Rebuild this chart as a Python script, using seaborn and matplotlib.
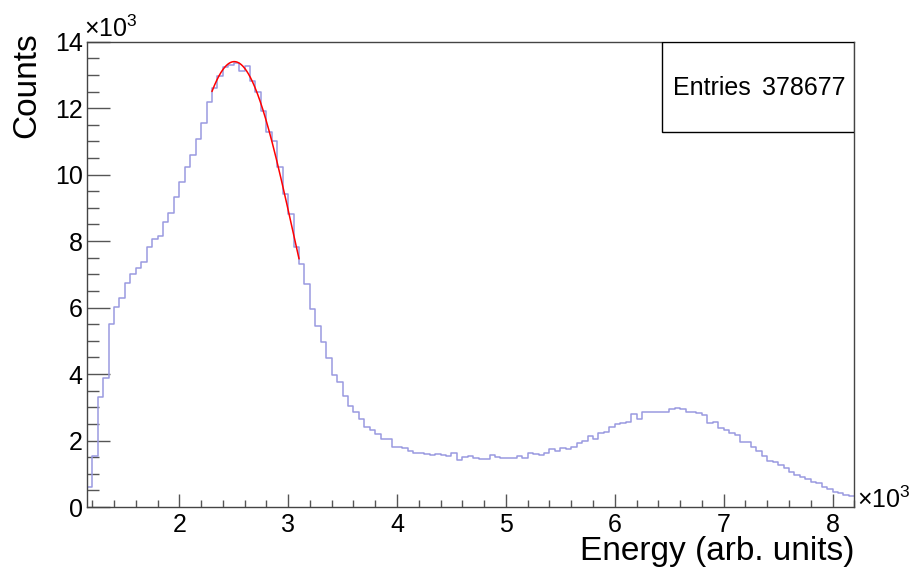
import numpy as np
import pandas as pd
import matplotlib
matplotlib.use("Agg")
import matplotlib.pyplot as plt
import seaborn as sns
from matplotlib.ticker import MultipleLocator, FuncFormatter
from matplotlib.patches import Rectangle

# binning of the energy histogram (arb. units)
x_min = 1150
x_max = 8200
bin_width = 50

# counts per bin in thousands
counts_k = [
    0.61, 1.53, 3.32, 3.87, 5.50, 6.03, 6.30, 6.75, 7.00, 7.20,
    7.38, 7.83, 8.07, 8.15, 8.56, 8.86, 9.32, 9.79, 10.24, 10.60,
    11.08, 11.56, 12.19, 12.60, 12.97, 13.25, 13.30, 13.35, 13.12, 13.27,
    12.83, 12.50, 11.92, 11.27, 11.01, 10.23, 9.43, 8.81, 7.81, 7.31,
    6.72, 5.95, 5.46, 4.95, 4.47, 3.97, 3.77, 3.34, 3.05, 2.87,
    2.65, 2.42, 2.32, 2.20, 2.04, 2.04, 1.82, 1.82, 1.77, 1.70,
    1.64, 1.64, 1.58, 1.56, 1.58, 1.55, 1.52, 1.61, 1.41, 1.51,
    1.53, 1.48, 1.45, 1.43, 1.57, 1.51, 1.48, 1.46, 1.48, 1.54,
    1.48, 1.61, 1.58, 1.56, 1.62, 1.75, 1.69, 1.79, 1.74, 1.82,
    1.94, 2.00, 2.14, 2.04, 2.24, 2.27, 2.42, 2.49, 2.52, 2.55,
    2.79, 2.64, 2.86, 2.87, 2.87, 2.87, 2.86, 2.95, 2.97, 2.96,
    2.87, 2.85, 2.82, 2.78, 2.52, 2.55, 2.37, 2.32, 2.24, 2.17,
    1.95, 1.97, 1.82, 1.69, 1.53, 1.38, 1.36, 1.26, 1.16, 1.04,
    0.96, 0.91, 0.83, 0.74, 0.71, 0.59, 0.54, 0.46, 0.41, 0.36,
    0.34,
]
entries = 378677

# gaussian fit on the first peak
fit_amp = 13400
fit_mean = 2505
fit_sigma = 550
fit_lo, fit_hi = 2300, 3100

centers = x_min + bin_width / 2 + bin_width * np.arange(len(counts_k))
hist = pd.DataFrame({"energy": centers, "counts": np.array(counts_k) * 1000})

fit_x = np.linspace(fit_lo, fit_hi, 200)
fit = pd.DataFrame({"energy": fit_x,
                    "counts": fit_amp * np.exp(-0.5 * ((fit_x - fit_mean) / fit_sigma) ** 2)})

sns.set_style("white")
plt.rcParams["font.family"] = ["Liberation Sans", "DejaVu Sans"]
plt.rcParams["mathtext.fontset"] = "custom"
plt.rcParams["mathtext.rm"] = "Liberation Sans"
plt.rcParams["mathtext.it"] = "Liberation Sans"
plt.rcParams["text.color"] = "black"
plt.rcParams["axes.labelcolor"] = "black"
plt.rcParams["xtick.labelcolor"] = "black"
plt.rcParams["ytick.labelcolor"] = "black"

fig = plt.figure(figsize=(9.14, 5.67), dpi=100)
ax = fig.add_axes([0.0949, 0.1058, 0.8398, 0.8207])

sns.histplot(data=hist, x="energy", weights="counts", binwidth=bin_width,
             binrange=(x_min, x_max), element="step", fill=False,
             color="#9a9ae0", linewidth=1.1, ax=ax)
sns.lineplot(data=fit, x="energy", y="counts", color="red", linewidth=1.1, ax=ax)

ax.set_xlim(x_min, x_max)
ax.set_ylim(0, 14000)

ax.xaxis.set_major_locator(MultipleLocator(1000))
ax.xaxis.set_minor_locator(MultipleLocator(200))
ax.yaxis.set_major_locator(MultipleLocator(2000))
ax.yaxis.set_minor_locator(MultipleLocator(500))
thousands = FuncFormatter(lambda v, p: f"{v / 1000:g}")
ax.xaxis.set_major_formatter(thousands)
ax.yaxis.set_major_formatter(thousands)

ax.tick_params(axis="both", which="both", bottom=True, left=True, top=False, right=False,
               labelsize=18, labelcolor="black", direction="in", width=1, color="#555555")
ax.tick_params(axis="x", which="major", length=9.5, pad=4)
ax.tick_params(axis="x", which="minor", length=4.8)
ax.tick_params(axis="y", which="major", length=16.5, pad=3)
ax.tick_params(axis="y", which="minor", length=8.6)

for s in ax.spines.values():
    s.set_color("#444444")
    s.set_linewidth(1)

ax.set_xlabel("Energy (arb. units)", fontsize=24, loc="right", color="black")
ax.set_ylabel("Counts", fontsize=24, loc="top", color="black")
ax.xaxis.set_label_coords(1.0, -0.062)
ax.yaxis.set_label_coords(-0.058, 1.02)

ax.text(-0.003, 1.01, r"$\times10^{3}$", transform=ax.transAxes, fontsize=18,
        ha="left", va="baseline", color="black")
ax.text(1.004, -0.002, r"$\times10^{3}$", transform=ax.transAxes, fontsize=18,
        ha="left", va="baseline", color="black")

# stats box
ax.add_patch(Rectangle((0.7495, 0.806), 0.2505, 0.194, transform=ax.transAxes,
                       facecolor="white", edgecolor="black", linewidth=1, zorder=5))
ax.text(0.7638, 0.9005, "Entries", transform=ax.transAxes, fontsize=18,
        ha="left", va="center", zorder=6, color="black")
ax.text(0.9879, 0.9005, f"{entries}", transform=ax.transAxes, fontsize=18,
        ha="right", va="center", zorder=6, color="black")

fig.savefig("out.png", dpi=100)
